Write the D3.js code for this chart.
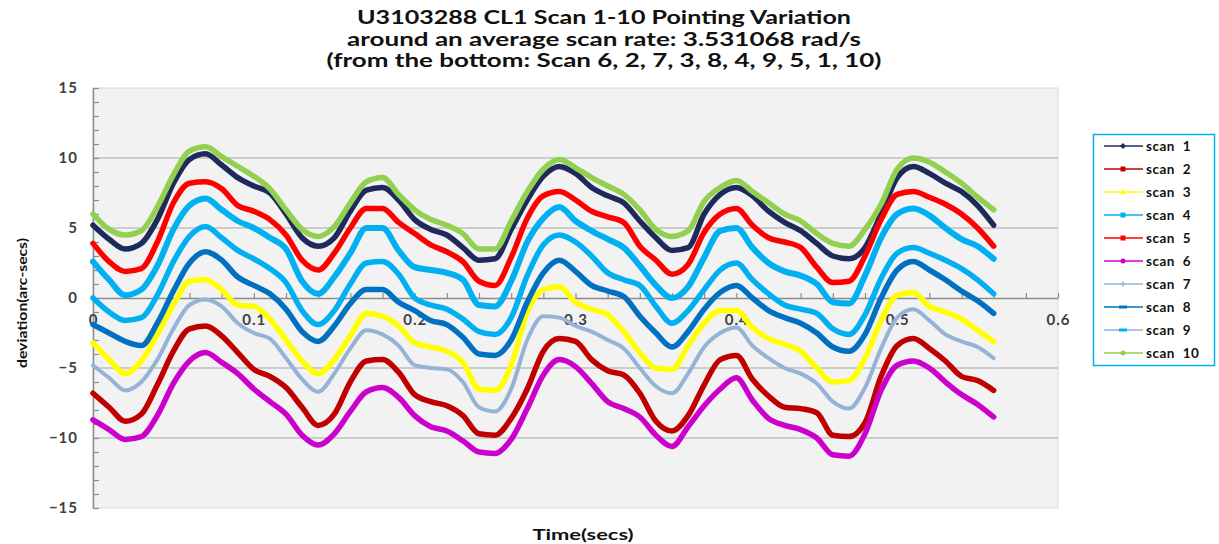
<!DOCTYPE html>
<html>
<head>
<meta charset="utf-8">
<script src="https://cdn.jsdelivr.net/npm/d3@7/dist/d3.min.js"></script>
<style>
  body { margin: 0; background: #fff; }
  text { font-family: Lato, "Open Sans", sans-serif; }
</style>
</head>
<body>
<svg width="1219" height="544"></svg>
<script>
// time axis shared by every scan (secs)
var times = [0.00,0.01,0.02,0.03,0.04,0.05,0.06,0.07,0.08,0.09,
             0.10,0.11,0.12,0.13,0.14,0.15,0.16,0.17,0.18,0.19,
             0.20,0.21,0.22,0.23,0.24,0.25,0.26,0.27,0.28,0.29,
             0.30,0.31,0.32,0.33,0.34,0.35,0.36,0.37,0.38,0.39,
             0.40,0.41,0.42,0.43,0.44,0.45,0.46,0.47,0.48,0.49,
             0.50,0.51,0.52,0.53,0.54,0.55,0.56];

// deviation (arc-secs)
var scan1 = [5.2,4.2,3.5,3.9,5.6,8.2,9.9,10.3,9.5,8.6,
             8.0,7.5,6.0,4.3,3.7,4.3,6.2,7.7,7.9,7.0,
             5.6,4.9,4.5,3.6,2.7,2.8,4.9,7.0,8.7,9.4,
             8.9,7.9,7.3,6.8,5.5,4.3,3.4,3.6,6.0,7.4,
             7.9,7.3,6.2,5.4,4.8,3.9,3.0,2.8,3.6,6.0,
             8.6,9.4,8.9,8.2,7.6,6.6,5.2];
var scan2 = [-6.8,-7.8,-8.8,-8.3,-6.2,-3.8,-2.2,-2.0,-2.7,-3.9,
             -5.1,-5.6,-6.4,-7.8,-9.1,-8.3,-6.0,-4.5,-4.4,-5.3,
             -6.9,-7.4,-7.7,-8.4,-9.7,-9.8,-8.6,-6.5,-3.8,-2.9,
             -3.1,-4.4,-5.2,-5.5,-6.8,-8.8,-9.5,-8.4,-6.2,-4.4,
             -4.1,-5.8,-7.0,-7.8,-7.9,-8.2,-9.8,-9.9,-8.9,-5.6,
             -3.4,-2.9,-3.6,-4.5,-5.6,-5.9,-6.6];
var scan3 = [-3.2,-4.4,-5.4,-4.5,-2.6,-0.5,1.2,1.3,0.6,-0.5,
             -0.6,-1.5,-3.0,-4.5,-5.4,-4.4,-2.7,-1.1,-1.3,-2.0,
             -3.2,-3.5,-3.8,-4.6,-6.5,-6.6,-4.8,-1.0,0.6,0.8,
             -0.3,-0.8,-1.2,-2.4,-3.9,-5.0,-5.1,-3.4,-1.8,-0.9,
             -0.9,-2.1,-2.9,-3.3,-3.8,-5.0,-6.0,-5.9,-4.3,-1.6,
             0.2,0.4,-0.6,-1.0,-1.5,-2.3,-3.1];
var scan4 = [0.0,-1.0,-1.6,-1.4,0.2,2.6,4.4,5.1,4.3,3.4,
             2.8,2.1,1.1,-0.9,-1.9,-0.9,1.0,2.5,2.6,1.7,
             0.0,-0.5,-0.8,-1.5,-2.4,-2.6,-1.4,1.6,3.8,4.5,
             4.0,3.0,1.8,1.3,0.9,-0.6,-1.8,-0.9,0.6,2.0,
             2.5,1.3,0.3,-0.5,-0.8,-1.1,-2.2,-2.6,-1.2,1.4,
             3.2,3.6,3.2,2.7,2.1,1.3,0.3];
var scan5 = [3.9,2.6,1.9,2.1,4.0,6.8,8.2,8.3,7.8,6.6,
             6.2,5.6,4.5,2.7,2.0,3.2,5.0,6.4,6.4,5.4,
             4.6,3.8,3.3,2.6,1.2,0.9,2.9,5.7,7.3,7.6,
             7.0,6.2,5.8,5.4,3.7,2.7,1.7,2.4,4.7,6.0,
             6.4,5.2,4.3,4.0,3.6,2.2,1.1,1.2,3.0,5.6,
             7.4,7.6,7.2,6.7,6.0,5.0,3.7];
var scan6 = [-8.7,-9.4,-10.1,-9.9,-8.4,-6.1,-4.5,-3.9,-4.6,-5.4,
             -6.5,-7.4,-8.3,-9.8,-10.5,-9.7,-8.1,-6.7,-6.4,-7.1,
             -8.4,-9.2,-9.5,-10.2,-11.0,-11.1,-10.1,-7.9,-5.5,-4.4,
             -4.9,-6.1,-7.4,-7.9,-8.5,-9.8,-10.6,-9.2,-7.7,-6.5,
             -5.7,-7.3,-8.6,-9.1,-9.4,-10.0,-11.2,-11.3,-9.7,-6.6,
             -4.8,-4.5,-5.0,-6.0,-6.9,-7.6,-8.5];
var scan7 = [-4.8,-5.7,-6.6,-6.0,-4.4,-2.2,-0.5,-0.1,-0.6,-1.8,
             -2.5,-2.9,-4.3,-5.8,-6.7,-5.4,-3.6,-2.3,-2.6,-3.4,
             -4.8,-5.0,-5.1,-6.0,-7.8,-8.1,-6.5,-3.0,-1.3,-1.4,
             -2.0,-2.4,-3.0,-3.6,-5.0,-6.3,-6.8,-5.4,-3.5,-2.5,
             -2.1,-3.4,-4.3,-5.0,-5.4,-6.1,-7.4,-7.9,-6.4,-3.6,
             -1.4,-0.8,-1.6,-2.6,-3.1,-3.5,-4.3];
var scan8 = [-1.9,-2.5,-3.1,-3.4,-1.8,0.5,2.5,3.3,2.7,1.5,
             0.9,0.3,-0.8,-2.4,-3.1,-2.0,-0.4,0.6,0.6,-0.3,
             -0.9,-1.6,-1.9,-2.8,-4.0,-4.1,-3.0,-0.3,1.8,2.7,
             1.9,0.9,0.5,0.1,-1.3,-2.5,-3.5,-2.4,-0.8,0.4,
             0.9,0.0,-0.9,-1.4,-1.8,-2.5,-3.5,-3.8,-2.6,0.0,
             2.0,2.6,2.0,1.3,0.5,-0.2,-1.1];
var scan9 = [2.6,1.3,0.2,0.6,2.3,4.9,6.6,7.1,6.3,5.5,
             5.0,4.3,3.5,1.2,0.3,1.5,3.2,5.0,5.0,3.4,
             2.2,2.0,1.8,1.3,-0.5,-0.6,1.2,4.0,5.7,6.5,
             5.5,4.8,4.2,3.6,2.3,0.9,0.0,0.8,2.9,4.8,
             5.0,3.6,2.5,1.9,1.6,1.0,-0.3,-0.4,1.6,4.3,
             6.0,6.4,5.9,5.0,4.2,3.7,2.8];
var scan10 = [6.0,4.9,4.5,4.8,6.5,8.8,10.5,10.8,10.1,9.4,
              8.7,7.8,6.3,4.9,4.4,5.1,6.8,8.3,8.6,7.4,
              6.3,5.6,5.2,4.6,3.5,3.5,5.5,7.6,9.2,9.9,
              9.3,8.6,8.0,7.4,6.3,4.9,4.4,4.8,6.9,7.9,
              8.4,7.6,6.8,6.0,5.5,4.6,3.9,3.7,4.9,6.7,
              9.2,10.0,9.7,9.0,8.2,7.2,6.3];

var seriesNames = ["scan 1","scan 2","scan 3","scan 4","scan 5","scan 6","scan 7","scan 8","scan 9","scan 10"];
var seriesValues = [scan1, scan2, scan3, scan4, scan5, scan6, scan7, scan8, scan9, scan10];
var lineColors = ["#1f2a5c","#c00000","#ffff00","#00b0f0","#ff0000","#cc00cc","#95b3d7","#0070c0","#00b0f0","#92d050"];
var markerColors = ["#1f2a5c","#c00000","#ffff00","#00b0f0","#ff0000","#cc00cc","#95b3d7","#0070c0","#00b0f0","#92d050"];
var legendLineColors = ["#1f2a5c","#c00000","#ffff00","#00b0f0","#ff0000","#cc00cc","#95b3d7","#0070c0","#8db4e2","#92d050"];
var markerShapes = ["diamond","square","triangle","square","square","circle","plus","dash","dash","circle"];
var lineWidths = [5.5,5.5,5.5,5.5,5.5,5.5,4,5.5,6,5.5];

var yTicks = [-15,-10,-5,0,5,10,15];
var xTicks = [0,0.1,0.2,0.3,0.4,0.5,0.6];

var titleLines = ["U3103288 CL1 Scan 1-10 Pointing Variation",
                  "around an average scan rate: 3.531068 rad/s",
                  "(from the bottom: Scan 6, 2, 7, 3, 8, 4, 9, 5, 1, 10)"];
var titleWidths = [494, 514, 555];

var svg = d3.select("svg"),
    plot = {left: 93, right: 1058, top: 88, bottom: 508};

var x = d3.scaleLinear().domain([0, 0.6]).range([plot.left, plot.right]),
    y = d3.scaleLinear().domain([-15, 15]).range([plot.bottom, plot.top]);

// plot background
svg.append("rect")
    .attr("x", plot.left)
    .attr("y", plot.top)
    .attr("width", plot.right - plot.left)
    .attr("height", plot.bottom - plot.top)
    .attr("fill", "#f2f2f2")
    .attr("stroke", "#c5e0f0")
    .attr("stroke-width", 1);

// horizontal gridlines
svg.append("g")
    .selectAll("line")
    .data([-10, -5, 5, 10])
    .enter().append("line")
    .attr("x1", plot.left).attr("x2", plot.right)
    .attr("y1", function (d) { return y(d); })
    .attr("y2", function (d) { return y(d); })
    .attr("stroke", "#a6a6a6")
    .attr("stroke-width", 1.2);

// y axis: labels + minor ticks
var yAxis = svg.append("g")
    .attr("transform", "translate(" + plot.left + ",0)")
    .call(d3.axisLeft(y).tickValues(yTicks).tickSize(0).tickPadding(15));
yAxis.select(".domain").attr("stroke", "#8c8c8c").attr("stroke-width", 1.5);
yAxis.selectAll("text")
    .attr("font-size", 15).attr("font-weight", "bold")
    .attr("letter-spacing", 1)
    .attr("fill", "#404040").style("font-family", "Lato, sans-serif");

svg.append("g")
    .attr("transform", "translate(" + plot.left + ",0)")
    .call(d3.axisRight(y).tickValues(d3.range(-15, 16, 1)).tickSize(6).tickFormat(""))
    .call(function (g) { g.select(".domain").remove(); })
    .selectAll("line").attr("stroke", "#8c8c8c").attr("stroke-width", 1.2);

// x axis crosses at 0
var xAxis = svg.append("g")
    .attr("transform", "translate(0," + y(0) + ")")
    .call(d3.axisBottom(x).tickValues(xTicks).tickSize(0).tickPadding(16)
        .tickFormat(function (d) { return d === 0 ? "0" : d3.format(".1f")(d); }));
xAxis.select(".domain").attr("stroke", "#8c8c8c").attr("stroke-width", 1.5);
xAxis.selectAll("text")
    .attr("font-size", 15).attr("font-weight", "bold")
    .attr("letter-spacing", 1)
    .attr("fill", "#404040").style("font-family", "Lato, sans-serif");

svg.append("g")
    .attr("transform", "translate(0," + y(0) + ")")
    .call(d3.axisTop(x).tickValues(d3.range(0, 0.61, 0.02)).tickSize(5).tickFormat(""))
    .call(function (g) { g.select(".domain").remove(); })
    .selectAll("line").attr("stroke", "#8c8c8c").attr("stroke-width", 1.2);

// series lines
var line = d3.line()
    .x(function (d, i) { return x(times[i]); })
    .y(function (d) { return y(d); })
    .curve(d3.curveMonotoneX);

svg.append("g")
    .selectAll("path")
    .data(seriesValues)
    .enter().append("path")
    .attr("d", line)
    .attr("fill", "none")
    .attr("stroke", function (d, i) { return lineColors[i]; })
    .attr("stroke-width", function (d, i) { return lineWidths[i]; })
    .attr("stroke-linejoin", "round")
    .attr("stroke-linecap", "round");

// titles
svg.append("g")
    .selectAll("text")
    .data(titleLines)
    .enter().append("text")
    .attr("x", 604)
    .attr("y", function (d, i) { return 24 + i * 21.5; })
    .attr("text-anchor", "middle")
    .attr("font-size", 18.5)
    .attr("font-weight", "bold")
    .attr("fill", "#111")
    .attr("textLength", function (d, i) { return titleWidths[i]; })
    .attr("lengthAdjust", "spacingAndGlyphs")
    .text(function (d) { return d; });

// axis titles
svg.append("text")
    .attr("x", 583).attr("y", 540)
    .attr("text-anchor", "middle")
    .attr("font-size", 16).attr("font-weight", "bold")
    .attr("fill", "#111")
    .attr("textLength", 101).attr("lengthAdjust", "spacingAndGlyphs")
    .text("Time(secs)");

svg.append("text")
    .attr("transform", "translate(27,303) rotate(-90)")
    .attr("text-anchor", "middle")
    .attr("font-size", 14).attr("font-weight", "bold")
    .attr("fill", "#111")
    .attr("textLength", 130).attr("lengthAdjust", "spacingAndGlyphs")
    .text("deviation(arc-secs)");

// legend
var legend = svg.append("g");
legend.append("rect")
    .attr("x", 1093.5).attr("y", 134.5)
    .attr("width", 121).attr("height", 231)
    .attr("fill", "#fff")
    .attr("stroke", "#00b0f0")
    .attr("stroke-width", 1.5);

var item = legend.selectAll("g.item")
    .data(seriesNames)
    .enter().append("g")
    .attr("class", "item")
    .attr("transform", function (d, i) { return "translate(0," + (146 + i * 23) + ")"; });

item.append("line")
    .attr("x1", 1104).attr("x2", 1143)
    .attr("stroke", function (d, i) { return legendLineColors[i]; })
    .attr("stroke-width", 1.5);

item.each(function (d, i) {
    var g = d3.select(this), c = markerColors[i], s = markerShapes[i];
    if (s === "square") {
        g.append("rect").attr("x", 1120.5).attr("y", -2.5).attr("width", 5).attr("height", 5).attr("fill", c);
    } else if (s === "circle") {
        g.append("circle").attr("cx", 1123).attr("cy", 0).attr("r", 2.5).attr("fill", c);
    } else if (s === "diamond") {
        g.append("path").attr("d", "M1123,-3L1126,0L1123,3L1120,0Z").attr("fill", c);
    } else if (s === "triangle") {
        g.append("path").attr("d", "M1123,-3L1126,2L1120,2Z").attr("fill", c);
    } else if (s === "plus") {
        g.append("path").attr("d", "M1120,0H1126M1123,-3V3").attr("stroke", c).attr("stroke-width", 1.2);
    } else if (s === "dash") {
        g.append("rect").attr("x", 1119).attr("y", -1.5).attr("width", 8).attr("height", 3).attr("fill", c);
    }
});

item.append("text")
    .attr("x", 1146).attr("y", 4.5)
    .attr("font-size", 13.5).attr("font-weight", "bold")
    .attr("fill", "#111")
    .attr("letter-spacing", 0.5)
    .style("word-spacing", "4px")
    .text(function (d) { return d; });
</script>
</body>
</html>
